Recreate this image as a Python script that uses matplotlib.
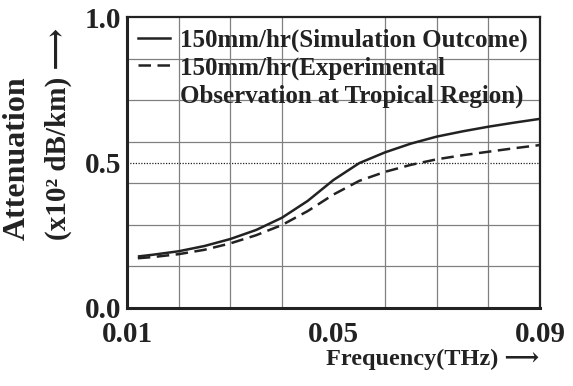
import matplotlib
matplotlib.use("Agg")
import matplotlib.pyplot as plt
from matplotlib.lines import Line2D
import numpy as np

# frequency in THz, attenuation in x10^2 dB/km
freq = [0.0121, 0.015, 0.02, 0.025, 0.03, 0.035, 0.04, 0.045, 0.05,
        0.055, 0.06, 0.065, 0.07, 0.075, 0.08, 0.085, 0.09]
simulation = [0.177, 0.183, 0.195, 0.213, 0.237, 0.268, 0.31, 0.368, 0.44,
              0.498, 0.535, 0.565, 0.589, 0.607, 0.623, 0.637, 0.65]
experimental = [0.171, 0.175, 0.185, 0.2, 0.222, 0.25, 0.285, 0.333, 0.39,
                0.437, 0.468, 0.492, 0.511, 0.525, 0.537, 0.549, 0.56]

label_sim = "150mm/hr(Simulation Outcome)"
label_exp = "150mm/hr(Experimental"
label_exp2 = "Observation at Tropical Region)"

x_ticks = [0.01, 0.05, 0.09]
y_ticks = [0.0, 0.5, 1.0]
ref_level = 0.5

ink = "#222222"
serif = ["Liberation Serif", "DejaVu Serif"]
plt.rcParams["font.family"] = serif
plt.rcParams["font.weight"] = "bold"
plt.rcParams["axes.labelweight"] = "bold"

fig = plt.figure(figsize=(5.73, 3.86), dpi=100)
ax = fig.add_axes([127 / 573, 78 / 386, 413 / 573, 291 / 386])

ax.plot(freq, simulation, color=ink, lw=1.8, solid_capstyle="butt")
ax.plot(freq, experimental, color=ink, lw=1.8, dashes=(5, 2.6))
ax.axhline(ref_level, color=ink, lw=0.9, ls=(0, (1, 1.2)), zorder=1)

ax.set_xlim(0.01, 0.09)
ax.set_ylim(0.0, 1.0)
ax.set_xticks(x_ticks)
ax.set_xticklabels(["0.01", "0.05", "0.09"])
ax.set_yticks(y_ticks)
ax.set_yticklabels(["0.0", "0.5", "1.0"])
ax.set_xticks(np.arange(0.01, 0.0901, 0.01), minor=True)
ax.set_yticks(np.arange(0, 8) / 7, minor=True)
ax.tick_params(which="both", length=0)
ax.tick_params(axis="y", labelsize=21, pad=4, colors=ink)
ax.tick_params(axis="x", labelsize=21, pad=9, colors=ink)
ax.grid(which="minor", color="#808080", lw=0.9, zorder=0)

for side in ["left", "bottom"]:
    ax.spines[side].set_linewidth(2.2)
for side in ["top", "right"]:
    ax.spines[side].set_linewidth(1.6)
for sp in ax.spines.values():
    sp.set_color(ink)

handles = [Line2D([], [], color=ink, lw=1.8),
           Line2D([], [], color=ink, lw=1.8, dashes=(5, 2.6)),
           Line2D([], [], ls="none")]
leg = ax.legend(handles, [label_sim, label_exp, label_exp2], loc="upper left",
                frameon=False, fontsize=18, handlelength=1.25, handletextpad=0.4,
                labelspacing=0.18, borderaxespad=0.25, borderpad=0.2)
for t in leg.get_texts():
    t.set_color(ink)

ax.set_xlabel("Frequency(THz) \u27f6", fontsize=17.5, color=ink, fontweight="bold")
ax.xaxis.set_label_coords((433 - 127) / 413, -(359 - 308) / 291)
ax.xaxis.label.set_va("center")

fig.text(17 / 573, (386 - 240) / 386, "Attenuation", rotation=90,
         ha="center", va="bottom", fontsize=23, color=ink)
fig.text(58 / 573, (386 - 240) / 386, "(x10\u00b2 dB/km) \u27f6", rotation=90,
         ha="center", va="bottom", fontsize=21, color=ink)

fig.savefig("out.png", dpi=100)
